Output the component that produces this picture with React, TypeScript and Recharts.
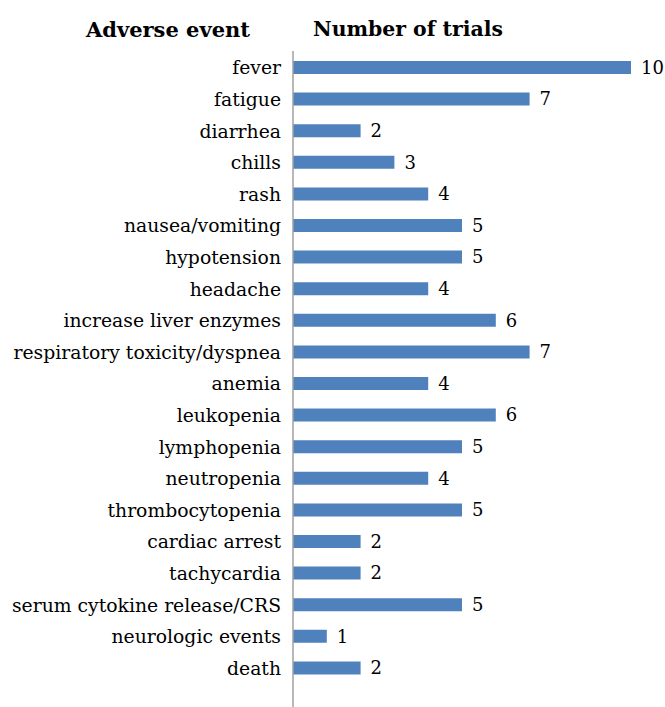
import React from 'react'
import { BarChart, Bar, XAxis, YAxis, LabelList } from 'recharts'

const events = [
  'fever', 'fatigue', 'diarrhea', 'chills', 'rash', 'nausea/vomiting', 'hypotension', 'headache',
  'increase liver enzymes', 'respiratory toxicity/dyspnea', 'anemia', 'leukopenia', 'lymphopenia',
  'neutropenia', 'thrombocytopenia', 'cardiac arrest', 'tachycardia', 'serum cytokine release/CRS',
  'neurologic events', 'death',
]
const trials = [10, 7, 2, 3, 4, 5, 5, 4, 6, 7, 4, 6, 5, 4, 5, 2, 2, 5, 1, 2]

const data = events.map((name, i) => ({ name, trials: trials[i] }))

const FONT = "'DejaVu Serif', serif"

export default function App() {
  return (
    <div style={{ position: 'absolute', left: 0, top: 0, width: 665, height: 707, background: '#fff' }}>
      <div style={{ position: 'absolute', left: 0, width: 336, top: 17, textAlign: 'center', fontFamily: FONT, fontWeight: 'bold', fontSize: 21, color: '#000' }}>
        Adverse event
      </div>
      <div style={{ position: 'absolute', left: 313, top: 17, fontFamily: FONT, fontWeight: 'bold', fontSize: 20.4, color: '#000' }}>
        Number of trials
      </div>
      <BarChart width={665} height={707} data={data} layout="vertical" margin={{ top: 51, right: 34, left: 0, bottom: 0 }}>
        <XAxis type="number" domain={[0, 10]} hide />
        <YAxis
          type="category"
          dataKey="name"
          width={293}
          padding={{ top: 1, bottom: 23 }}
          tickLine={false}
          tickMargin={6}
          axisLine={{ stroke: '#a0a0a0', strokeWidth: 1.5 }}
          interval={0}
          tick={{ fontSize: 18.8, fontFamily: FONT, fill: '#000' }}
        />
        <Bar dataKey="trials" fill="#4f81bd" barSize={13} isAnimationActive={false}>
          <LabelList dataKey="trials" position="right" offset={10} style={{ fontSize: 18, fontFamily: FONT, fill: '#000' }} />
        </Bar>
      </BarChart>
    </div>
  )
}
